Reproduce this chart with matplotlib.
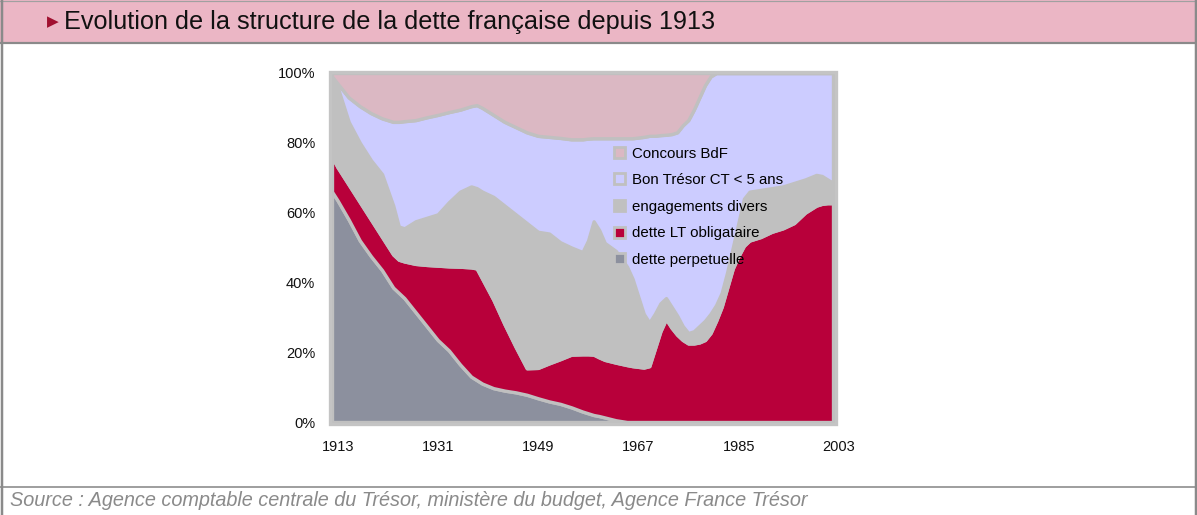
import matplotlib
matplotlib.use("Agg")
import matplotlib.pyplot as plt
from matplotlib.patches import Rectangle, Patch
from matplotlib.lines import Line2D
import matplotlib.transforms as mtransforms

# ---------------- data (shares of total debt, %) ----------------
years = [1913, 1914, 1916, 1918, 1920, 1922, 1924, 1925, 1926, 1928, 1930, 1932,
         1934, 1936, 1938, 1939, 1940, 1942, 1944, 1946, 1948, 1950, 1952, 1954,
         1956, 1958, 1959, 1960, 1961, 1962, 1964, 1966, 1967, 1968, 1969, 1970,
         1971, 1972, 1973, 1974, 1975, 1976, 1977, 1978, 1979, 1980, 1981, 1982,
         1983, 1984, 1985, 1986, 1987, 1988, 1990, 1992, 1994, 1996, 1998, 2000,
         2001, 2002, 2003]

dette_perpetuelle = [66, 63.5, 58, 52, 47.5, 43.5, 38.5, 37, 35.5, 31.5, 27.5, 23.5,
                     20.5, 16.5, 13, 12, 11, 9.7, 9, 8.5, 7.8, 6.8, 5.9, 5.2,
                     4.2, 3, 2.5, 2, 1.7, 1.3, 0.5, 0, 0, 0, 0, 0,
                     0, 0, 0, 0, 0, 0, 0, 0, 0, 0, 0, 0,
                     0, 0, 0, 0, 0, 0, 0, 0, 0, 0, 0, 0,
                     0, 0, 0]
dette_lt = [10, 9.5, 10, 11, 10.5, 9.5, 9.5, 9.5, 10.5, 13.8, 17.5, 21.3,
            24.1, 28, 31.3, 32, 30, 25.3, 19, 13, 7.6, 8.7, 10.9, 12.8,
            15.1, 16.4, 16.9, 17.3, 16.8, 16.5, 16.5, 16.3, 16, 15.8, 15.6, 16,
            21, 26, 29.5, 27, 25, 23.5, 22.5, 22.5, 22.8, 23.5, 25.5, 29,
            33, 38.5, 44, 47.5, 50.5, 52, 53, 54.5, 55.5, 57, 60, 62,
            62.5, 62.7, 62.7]
engagements_divers = [23, 23, 18, 17, 17, 18, 14, 9.5, 9.5, 12.2, 13.5, 14.7,
                      18.4, 21.5, 23.2, 23, 25, 29.5, 34, 38, 41.6, 39, 37.2, 33.5,
                      30.7, 29.3, 32.6, 38.2, 36.5, 33.5, 32, 28.2, 25, 20.2, 15.4, 12.5,
                      10, 8, 6, 6, 5.5, 4, 3, 3.5, 4.7, 5.5, 5.5, 4.5,
                      4, 4.5, 6, 9.5, 13.5, 14, 13.5, 12.5, 12, 11.5, 9.5, 8.8,
                      8, 6.8, 5.8]
bon_tresor = [0, 1, 7, 10.5, 13.5, 16, 24, 30, 30.7, 29, 28.8, 28.5,
              25.8, 23.5, 23, 23.8, 24, 23.5, 24, 25, 26, 27.5, 27.7, 29.9,
              31, 32.3, 29.2, 23.8, 26.3, 30.0, 32.3, 36.8, 40.3, 45.5, 50.7, 53.5,
              51, 48.2, 46.8, 49.5, 52.5, 57.5, 61, 63.5, 65.5, 67.5, 68, 66.5,
              63, 57, 50, 43, 36, 34, 33.5, 33, 32.5, 31.5, 30.5, 29.2,
              29.5, 30.5, 31.5]
concours_bdf = [1, 3, 7, 9.5, 11.5, 13, 14, 14, 13.8, 13.5, 12.7, 12,
                11.2, 10.5, 9.5, 9.2, 10, 12, 14, 15.5, 17, 18, 18.3, 18.6,
                19, 19, 18.8, 18.7, 18.7, 18.7, 18.7, 18.7, 18.7, 18.5, 18.3, 18,
                18, 17.8, 17.7, 17.5, 17, 15, 13.5, 10.5, 7, 3.5, 1, 0,
                0, 0, 0, 0, 0, 0, 0, 0, 0, 0, 0, 0,
                0, 0, 0]

series_labels = ["dette perpetuelle", "dette LT obligataire", "engagements divers",
                 "Bon Trésor CT < 5 ans", "Concours BdF"]
series_colors = ["#8c909e", "#b8003a", "#c0c0c0", "#ccccff", "#dbb8c3"]
x_tick_years = [1913, 1931, 1949, 1967, 1985, 2003]
y_ticks = [0, 20, 40, 60, 80, 100]

title = "Evolution de la structure de la dette française depuis 1913"
source = "Source : Agence comptable centrale du Trésor, ministère du budget, Agence France Trésor"

# ---------------- figure ----------------
W, H = 1197, 515
fig = plt.figure(figsize=(W / 100, H / 100), dpi=100)
FONT = ["Liberation Sans", "DejaVu Sans"]


def fx(x):
    return x / W


def fy(y):
    return 1 - y / H


# frame decorations
fig.patches.append(Rectangle((0, fy(42)), 1, 42 / H, transform=fig.transFigure,
                             facecolor="#ebb6c5", edgecolor="none", zorder=0))
for (x0, y0, x1, y1, c, lw) in [
        (0, 0.5, W, 0.5, "#a0a0a0", 1.2),
        (0, 42.5, W, 42.5, "#8a8a8a", 2.2),
        (0, 486.5, W, 486.5, "#a0a0a0", 2.0),
        (1.5, 0, 1.5, H, "#8a8a8a", 2.5),
        (1195.5, 0, 1195.5, H, "#8a8a8a", 2.5)]:
    fig.add_artist(Line2D([fx(x0), fx(x1)], [fy(y0), fy(y1)], transform=fig.transFigure,
                          color=c, linewidth=lw * 0.72, zorder=1))

fig.text(fx(53), fy(21.5), "\u25B6", family="DejaVu Sans", fontsize=11, color="#a01030",
         ha="center", va="center")
fig.text(fx(64), fy(21.5), title, family=FONT, fontsize=18.2, color="#111111",
         ha="left", va="center")
fig.text(fx(10), fy(501), source, family=FONT, fontsize=14.3, style="italic",
         color="#8a8a8a", ha="left", va="center")

# ---------------- axes ----------------
ax = fig.add_axes([fx(332), fy(422), (833 - 332) / W, (422 - 73) / H])
polys = ax.stackplot(years, dette_perpetuelle, dette_lt, engagements_divers,
                     bon_tresor, concours_bdf, colors=series_colors,
                     labels=series_labels, edgecolor="#c0c0c0", linewidth=2.4)
for p in polys:
    p.set_clip_on(False)

ax.set_xlim(1913, 2003)
ax.set_ylim(0, 100)
for s in ax.spines.values():
    s.set_visible(False)
ax.set_facecolor("white")

# light grey plot-area frame, just outside the data area
frame = Rectangle((fx(329.5), fy(424)), (836 - 329.5) / W, (424 - 71.5) / H,
                  transform=fig.transFigure, facecolor="none",
                  edgecolor="#c4c4c4", linewidth=2.4, zorder=6)
fig.add_artist(frame)

ax.set_yticks(y_ticks)
ax.set_yticklabels([f"{v}%" for v in y_ticks])
ax.set_xticks(x_tick_years)
ax.set_xticklabels([str(v) for v in x_tick_years])
ax.tick_params(length=0, labelsize=10.5, colors="#111111")
ax.tick_params(axis="y", pad=12)
ax.tick_params(axis="x", pad=13)
for lab in ax.get_xticklabels() + ax.get_yticklabels():
    lab.set_family(FONT)
offset = mtransforms.ScaledTranslation(6 / 100, 0, fig.dpi_scale_trans)
for lab in ax.get_xticklabels():
    lab.set_transform(lab.get_transform() + offset)

handles = [Patch(facecolor=c, edgecolor="#c0c0c0", linewidth=2.0)
           for c in series_colors][::-1]
leg = ax.legend(handles, series_labels[::-1], loc="upper left",
                bbox_to_anchor=(fx(614), fy(146.5)), bbox_transform=fig.transFigure,
                frameon=False, prop={"family": FONT, "size": 10.8},
                handlelength=0.75, handleheight=0.75, handletextpad=0.42,
                labelspacing=0.84, borderpad=0, borderaxespad=0)

fig.savefig("out.png", dpi=100)
